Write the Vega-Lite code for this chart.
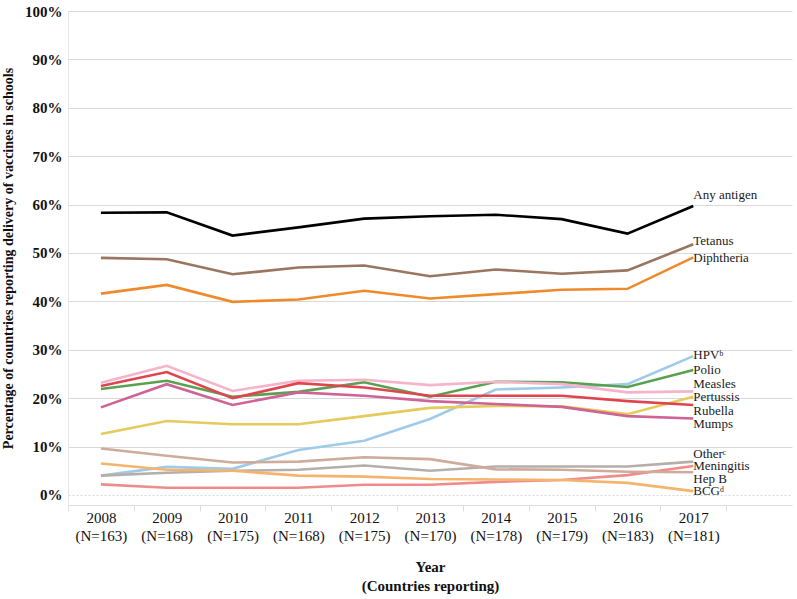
{
  "$schema": "https://vega.github.io/schema/vega-lite/v6.json",
  "width": 724,
  "height": 494,
  "autosize": {"type": "none"},
  "padding": {"left": 68, "top": 11, "right": 5, "bottom": 94},
  "background": "white",
  "config": {"view": {"stroke": null}, "font": "Liberation Serif"},
  "datasets": {
    "series": [
      {"series": "Any antigen", "year": 2008, "pct": 58.3}, {"series": "Any antigen", "year": 2009, "pct": 58.4}, {"series": "Any antigen", "year": 2010, "pct": 53.6}, {"series": "Any antigen", "year": 2011, "pct": 55.3}, {"series": "Any antigen", "year": 2012, "pct": 57.1}, {"series": "Any antigen", "year": 2013, "pct": 57.6}, {"series": "Any antigen", "year": 2014, "pct": 57.9}, {"series": "Any antigen", "year": 2015, "pct": 57.0}, {"series": "Any antigen", "year": 2016, "pct": 54.0}, {"series": "Any antigen", "year": 2017, "pct": 59.7},
      {"series": "Tetanus", "year": 2008, "pct": 49.0}, {"series": "Tetanus", "year": 2009, "pct": 48.7}, {"series": "Tetanus", "year": 2010, "pct": 45.6}, {"series": "Tetanus", "year": 2011, "pct": 47.0}, {"series": "Tetanus", "year": 2012, "pct": 47.4}, {"series": "Tetanus", "year": 2013, "pct": 45.2}, {"series": "Tetanus", "year": 2014, "pct": 46.6}, {"series": "Tetanus", "year": 2015, "pct": 45.7}, {"series": "Tetanus", "year": 2016, "pct": 46.4}, {"series": "Tetanus", "year": 2017, "pct": 51.8},
      {"series": "Diphtheria", "year": 2008, "pct": 41.6}, {"series": "Diphtheria", "year": 2009, "pct": 43.4}, {"series": "Diphtheria", "year": 2010, "pct": 39.9}, {"series": "Diphtheria", "year": 2011, "pct": 40.4}, {"series": "Diphtheria", "year": 2012, "pct": 42.2}, {"series": "Diphtheria", "year": 2013, "pct": 40.6}, {"series": "Diphtheria", "year": 2014, "pct": 41.5}, {"series": "Diphtheria", "year": 2015, "pct": 42.4}, {"series": "Diphtheria", "year": 2016, "pct": 42.6}, {"series": "Diphtheria", "year": 2017, "pct": 49.1},
      {"series": "HPV", "year": 2008, "pct": 4.0}, {"series": "HPV", "year": 2009, "pct": 5.8}, {"series": "HPV", "year": 2010, "pct": 5.4}, {"series": "HPV", "year": 2011, "pct": 9.3}, {"series": "HPV", "year": 2012, "pct": 11.2}, {"series": "HPV", "year": 2013, "pct": 15.7}, {"series": "HPV", "year": 2014, "pct": 21.8}, {"series": "HPV", "year": 2015, "pct": 22.2}, {"series": "HPV", "year": 2016, "pct": 22.9}, {"series": "HPV", "year": 2017, "pct": 28.7},
      {"series": "Polio", "year": 2008, "pct": 21.9}, {"series": "Polio", "year": 2009, "pct": 23.6}, {"series": "Polio", "year": 2010, "pct": 20.3}, {"series": "Polio", "year": 2011, "pct": 21.3}, {"series": "Polio", "year": 2012, "pct": 23.3}, {"series": "Polio", "year": 2013, "pct": 20.3}, {"series": "Polio", "year": 2014, "pct": 23.4}, {"series": "Polio", "year": 2015, "pct": 23.3}, {"series": "Polio", "year": 2016, "pct": 22.3}, {"series": "Polio", "year": 2017, "pct": 25.8},
      {"series": "Measles", "year": 2008, "pct": 23.2}, {"series": "Measles", "year": 2009, "pct": 26.7}, {"series": "Measles", "year": 2010, "pct": 21.5}, {"series": "Measles", "year": 2011, "pct": 23.6}, {"series": "Measles", "year": 2012, "pct": 23.8}, {"series": "Measles", "year": 2013, "pct": 22.7}, {"series": "Measles", "year": 2014, "pct": 23.4}, {"series": "Measles", "year": 2015, "pct": 22.9}, {"series": "Measles", "year": 2016, "pct": 21.2}, {"series": "Measles", "year": 2017, "pct": 21.4},
      {"series": "Pertussis", "year": 2008, "pct": 12.6}, {"series": "Pertussis", "year": 2009, "pct": 15.3}, {"series": "Pertussis", "year": 2010, "pct": 14.6}, {"series": "Pertussis", "year": 2011, "pct": 14.6}, {"series": "Pertussis", "year": 2012, "pct": 16.3}, {"series": "Pertussis", "year": 2013, "pct": 18.0}, {"series": "Pertussis", "year": 2014, "pct": 18.4}, {"series": "Pertussis", "year": 2015, "pct": 18.3}, {"series": "Pertussis", "year": 2016, "pct": 16.7}, {"series": "Pertussis", "year": 2017, "pct": 20.3},
      {"series": "Rubella", "year": 2008, "pct": 22.5}, {"series": "Rubella", "year": 2009, "pct": 25.4}, {"series": "Rubella", "year": 2010, "pct": 20.0}, {"series": "Rubella", "year": 2011, "pct": 23.1}, {"series": "Rubella", "year": 2012, "pct": 22.2}, {"series": "Rubella", "year": 2013, "pct": 20.5}, {"series": "Rubella", "year": 2014, "pct": 20.5}, {"series": "Rubella", "year": 2015, "pct": 20.5}, {"series": "Rubella", "year": 2016, "pct": 19.4}, {"series": "Rubella", "year": 2017, "pct": 18.6},
      {"series": "Mumps", "year": 2008, "pct": 18.1}, {"series": "Mumps", "year": 2009, "pct": 22.9}, {"series": "Mumps", "year": 2010, "pct": 18.6}, {"series": "Mumps", "year": 2011, "pct": 21.2}, {"series": "Mumps", "year": 2012, "pct": 20.5}, {"series": "Mumps", "year": 2013, "pct": 19.4}, {"series": "Mumps", "year": 2014, "pct": 18.8}, {"series": "Mumps", "year": 2015, "pct": 18.2}, {"series": "Mumps", "year": 2016, "pct": 16.3}, {"series": "Mumps", "year": 2017, "pct": 15.8},
      {"series": "Other", "year": 2008, "pct": 4.0}, {"series": "Other", "year": 2009, "pct": 4.6}, {"series": "Other", "year": 2010, "pct": 5.0}, {"series": "Other", "year": 2011, "pct": 5.2}, {"series": "Other", "year": 2012, "pct": 6.1}, {"series": "Other", "year": 2013, "pct": 5.0}, {"series": "Other", "year": 2014, "pct": 5.9}, {"series": "Other", "year": 2015, "pct": 5.9}, {"series": "Other", "year": 2016, "pct": 5.9}, {"series": "Other", "year": 2017, "pct": 6.9},
      {"series": "Meningitis", "year": 2008, "pct": 2.2}, {"series": "Meningitis", "year": 2009, "pct": 1.5}, {"series": "Meningitis", "year": 2010, "pct": 1.5}, {"series": "Meningitis", "year": 2011, "pct": 1.5}, {"series": "Meningitis", "year": 2012, "pct": 2.1}, {"series": "Meningitis", "year": 2013, "pct": 2.1}, {"series": "Meningitis", "year": 2014, "pct": 2.7}, {"series": "Meningitis", "year": 2015, "pct": 3.1}, {"series": "Meningitis", "year": 2016, "pct": 4.1}, {"series": "Meningitis", "year": 2017, "pct": 6.0},
      {"series": "Hep B", "year": 2008, "pct": 9.6}, {"series": "Hep B", "year": 2009, "pct": 8.1}, {"series": "Hep B", "year": 2010, "pct": 6.7}, {"series": "Hep B", "year": 2011, "pct": 6.9}, {"series": "Hep B", "year": 2012, "pct": 7.8}, {"series": "Hep B", "year": 2013, "pct": 7.4}, {"series": "Hep B", "year": 2014, "pct": 5.3}, {"series": "Hep B", "year": 2015, "pct": 5.2}, {"series": "Hep B", "year": 2016, "pct": 4.8}, {"series": "Hep B", "year": 2017, "pct": 4.7},
      {"series": "BCG", "year": 2008, "pct": 6.5}, {"series": "BCG", "year": 2009, "pct": 5.2}, {"series": "BCG", "year": 2010, "pct": 5.0}, {"series": "BCG", "year": 2011, "pct": 4.0}, {"series": "BCG", "year": 2012, "pct": 3.8}, {"series": "BCG", "year": 2013, "pct": 3.3}, {"series": "BCG", "year": 2014, "pct": 3.2}, {"series": "BCG", "year": 2015, "pct": 3.1}, {"series": "BCG", "year": 2016, "pct": 2.5}, {"series": "BCG", "year": 2017, "pct": 0.8}
    ],
    "labels": [
      {"label": "Any antigen", "year": 2017, "pct": 62.0},
      {"label": "Tetanus", "year": 2017, "pct": 52.5},
      {"label": "Diphtheria", "year": 2017, "pct": 49.0},
      {"label": "HPVᵇ", "year": 2017, "pct": 28.9},
      {"label": "Polio", "year": 2017, "pct": 25.8},
      {"label": "Measles", "year": 2017, "pct": 22.9},
      {"label": "Pertussis", "year": 2017, "pct": 20.3},
      {"label": "Rubella", "year": 2017, "pct": 17.4},
      {"label": "Mumps", "year": 2017, "pct": 14.6},
      {"label": "Otherᶜ", "year": 2017, "pct": 8.4},
      {"label": "Meningitis", "year": 2017, "pct": 6.0},
      {"label": "Hep B", "year": 2017, "pct": 3.4},
      {"label": "BCGᵈ", "year": 2017, "pct": 0.8}
    ]
  },
  "layer": [
    {
      "data": {"name": "series"},
      "mark": {"type": "line", "strokeWidth": 2.6},
      "encoding": {
        "x": {
          "field": "year", "type": "quantitative",
          "scale": {"domain": [2007.5, 2018.5], "nice": false, "zero": false},
          "axis": {
            "orient": "bottom",
            "values": [2008, 2009, 2010, 2011, 2012, 2013, 2014, 2015, 2016, 2017],
            "labelExpr": "[format(datum.value, 'd'), '(N=' + ['163','168','175','168','175','170','178','179','183','181'][datum.value - 2008] + ')']",
            "grid": false, "ticks": false, "domain": true, "domainColor": "#dcdcdc",
            "labelFont": "Liberation Serif", "labelFontSize": 15, "labelColor": "#111111",
            "labelPadding": 5, "labelLineHeight": 18, "labelFlush": false, "labelOverlap": false,
            "title": ["Year", "(Countries reporting)"],
            "titleFont": "Liberation Serif", "titleFontSize": 15, "titleFontWeight": "bold",
            "titleColor": "#111111", "titlePadding": 16, "titleLineHeight": 19
          }
        },
        "y": {
          "field": "pct", "type": "quantitative",
          "scale": {"domain": [-2.07, 100], "nice": false, "zero": false},
          "axis": {
            "values": [0, 10, 20, 30, 40, 50, 60, 70, 80, 90, 100],
            "labelExpr": "datum.value + '%'",
            "ticks": false, "domain": true, "domainColor": "#e6e6e6",
            "grid": true, "gridColor": "#d9d9d9", "gridWidth": 1,
            "gridDash": {"condition": {"test": "datum.value === 0", "value": [2, 2]}, "value": []},
            "labelFont": "Liberation Serif", "labelFontSize": 15, "labelFontWeight": "bold",
            "labelColor": "#111111", "labelPadding": 6,
            "title": "Percentage of countries reporting delivery of vaccines in schools",
            "titleFont": "Liberation Serif", "titleFontSize": 14, "titleFontWeight": "bold",
            "titleColor": "#111111", "titlePadding": 9
          }
        },
        "color": {
          "field": "series", "type": "nominal",
          "scale": {
            "domain": ["BCG", "Hep B", "Meningitis", "Other", "HPV", "Pertussis", "Mumps", "Measles", "Polio", "Rubella", "Diphtheria", "Tetanus", "Any antigen"],
            "range": ["#f5b46e", "#cfab9c", "#f08b8b", "#b5aeab", "#9fcbe8", "#e6ca5c", "#cf6395", "#f6b3cc", "#59a14f", "#e0454f", "#ee8a2c", "#9a7560", "#000000"]
          },
          "legend": null
        },
        "order": {"field": "year", "type": "quantitative"}
      }
    },
    {
      "data": {"name": "labels"},
      "mark": {"type": "text", "align": "left", "baseline": "middle", "dx": 0, "font": "Liberation Serif", "fontSize": 13, "color": "#1a1a1a"},
      "encoding": {
        "x": {
          "field": "year", "type": "quantitative",
          "axis": {
            "orient": "bottom",
            "values": [2007.5, 2008.5, 2009.5, 2010.5, 2011.5, 2012.5, 2013.5, 2014.5, 2015.5, 2016.5, 2017.5],
            "labels": false, "ticks": true, "tickSize": 6, "tickColor": "#dcdcdc",
            "domain": false, "grid": false, "title": null
          }
        },
        "y": {"field": "pct", "type": "quantitative"},
        "text": {"field": "label"}
      }
    }
  ],
  "resolve": {"axis": {"x": "independent"}}
}
